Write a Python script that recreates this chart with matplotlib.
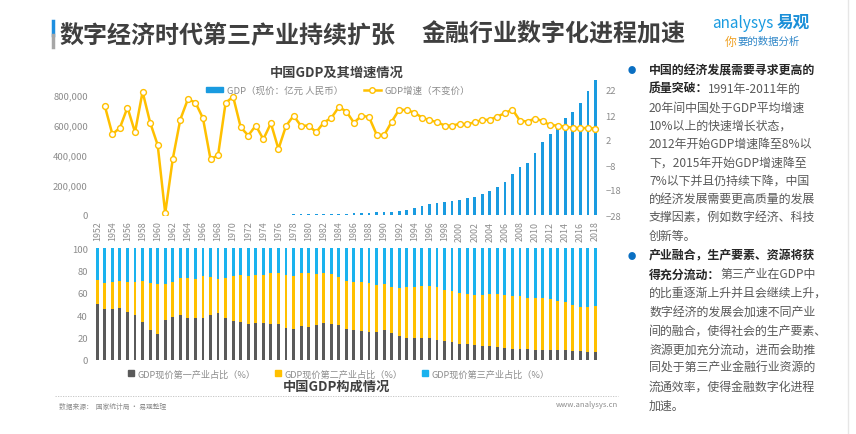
import numpy as np
import matplotlib
matplotlib.use('Agg')
import matplotlib.pyplot as plt
from matplotlib.lines import Line2D
from matplotlib.patches import Patch
from matplotlib.text import Annotation

plt.rcParams['font.family'] = ['Noto Sans CJK SC', 'DejaVu Sans']

# data
years = list(range(1952, 2019))
gdp = [679.1, 824.4, 859.8, 911.6, 1030.7, 1071.4, 1312.3, 1447.5, 1470.1, 1232.3,
       1162.2, 1248.3, 1469.9, 1734.0, 1888.7, 1794.2, 1744.1, 1962.2, 2279.7, 2456.9,
       2552.4, 2756.2, 2827.7, 3039.5, 2988.6, 3250.0, 3678.7, 4100.5, 4587.6, 4935.8,
       5373.4, 6020.9, 7278.5, 9098.9, 10376.2, 12174.6, 15180.4, 17179.7, 18872.9, 22005.6,
       27194.5, 35673.2, 48637.5, 61339.9, 71813.6, 79715.0, 85195.5, 90564.4, 100280.1, 110863.1,
       121717.4, 137422.0, 161840.2, 187318.9, 219438.5, 270232.3, 319515.5, 349081.4, 413030.3, 489300.6,
       540367.4, 595244.4, 643974.0, 689052.1, 743585.5, 827121.7, 900309.5]
growth_years = list(range(1953, 2019))
growth = [15.6, 4.3, 6.9, 15.0, 5.1, 21.3, 9.0, 0.0, -27.3, -5.6,
          10.2, 18.3, 17.0, 10.7, -5.7, -4.1, 16.9, 19.3, 7.1, 3.8,
          7.8, 2.3, 8.7, -1.6, 7.6, 11.7, 7.6, 7.8, 5.1, 9.0,
          10.8, 15.2, 13.4, 8.9, 11.7, 11.2, 4.2, 3.9, 9.3, 14.2,
          13.9, 13.0, 11.0, 9.9, 9.2, 7.8, 7.7, 8.5, 8.3, 9.1,
          10.0, 10.1, 11.4, 12.7, 14.2, 9.7, 9.4, 10.6, 9.6, 7.9,
          7.8, 7.3, 6.9, 6.7, 6.8, 6.6]
primary = [50.5, 45.9, 45.6, 46.3, 42.9, 40.1, 33.9, 26.4, 23.2, 35.8,
           38.9, 39.9, 38.0, 37.5, 37.2, 39.8, 41.6, 37.6, 34.8, 33.7,
           32.4, 32.9, 33.4, 31.9, 32.4, 29.0, 27.7, 30.7, 29.6, 31.3,
           32.8, 32.6, 31.5, 27.9, 26.6, 26.3, 25.2, 24.6, 26.6, 24.0,
           21.3, 19.3, 19.5, 19.6, 19.3, 17.9, 17.2, 16.1, 14.7, 14.0,
           13.3, 12.3, 12.9, 11.6, 10.6, 10.2, 10.2, 9.6, 9.3, 9.2,
           9.1, 8.9, 8.6, 8.4, 8.1, 7.6, 7.2]
secondary = [20.8, 23.4, 24.6, 24.4, 27.3, 29.7, 37.0, 42.8, 44.5, 31.9,
             31.3, 33.0, 35.3, 35.1, 38.0, 34.0, 31.1, 35.6, 40.3, 42.0,
             43.0, 43.1, 42.7, 45.7, 45.4, 47.1, 47.7, 47.0, 48.1, 46.0,
             44.6, 44.2, 42.9, 42.7, 43.5, 43.3, 43.5, 42.5, 41.0, 41.5,
             43.1, 46.2, 46.2, 46.8, 47.1, 47.1, 45.8, 45.4, 45.5, 44.8,
             44.5, 45.6, 45.9, 47.0, 47.6, 46.9, 47.0, 46.0, 46.5, 46.5,
             45.4, 44.2, 43.1, 40.8, 39.6, 39.9, 40.7]
tertiary = [round(100 - p - s, 1) for p, s in zip(primary, secondary)]

c_blue = '#1A9BE0'
c_blue2 = '#1AB2EE'
c_yellow = '#FFC000'
c_gray = '#5A5A5A'
tick_c = '#8C8C8C'

W, H = 856, 435
fig = plt.figure(figsize=(W / 100, H / 100), dpi=100)

def box(l, t, r, b):
    return [l / W, 1 - b / H, (r - l) / W, (b - t) / H]

# top chart
ax = fig.add_axes(box(92, 66, 600, 216))
ax.bar(years, gdp, width=0.36, color=c_blue, zorder=2)
ax.set_xlim(1951.3, 2018.6)
ax.set_ylim(0, 1000000)
ax.set_yticks([0, 200000, 400000, 600000, 800000])
ax.set_yticklabels(['0', '200,000', '400,000', '600,000', '800,000'])
ax.set_xticks(years[::2])
ax.set_xticklabels([str(y) for y in years[::2]], rotation=90)
ax.tick_params(axis='y', length=0, labelsize=6.8, labelcolor=tick_c, pad=3)
ax.tick_params(axis='x', length=0, labelsize=6.4, labelcolor=tick_c, pad=4)
for s in ax.spines.values():
    s.set_visible(False)

ax2 = ax.twinx()
ax2.plot(growth_years, growth, color=c_yellow, lw=1.8, marker='o', ms=4.2,
         mfc='white', mec=c_yellow, mew=1, zorder=3)
ax2.set_ylim(-28, 32)
ax2.set_yticks([-28, -18, -8, 2, 12, 22])
ax2.tick_params(length=0, labelsize=6.8, labelcolor=tick_c, pad=4)
for s in ax2.spines.values():
    s.set_visible(False)

fig.text(337 / W, 1 - 73 / H, '中国GDP及其增速情况', ha='center', va='center',
         fontsize=9.5, fontweight='bold', color='#404040')
h1 = Patch(color=c_blue)
h2 = Line2D([], [], color=c_yellow, lw=1.8, marker='o', ms=4, mfc='white', mec=c_yellow)
fig.legend([h1, h2], ['GDP（现价：亿元 人民币）', 'GDP增速（不变价）'], loc='center',
           bbox_to_anchor=(338 / W, 1 - 91 / H), ncol=2, frameon=False, fontsize=6.8,
           labelcolor=tick_c, handlelength=1.8, handleheight=0.5, columnspacing=2.2,
           handletextpad=0.4)

# bottom chart
bx = fig.add_axes(box(92, 238, 600, 361))
bx.patch.set_alpha(0)
bx.bar(years, primary, width=0.38, color=c_gray)
bx.bar(years, secondary, width=0.38, bottom=primary, color=c_yellow)
bx.bar(years, tertiary, width=0.38, bottom=[p + s for p, s in zip(primary, secondary)], color=c_blue2)
bx.set_xlim(1951.3, 2018.6)
bx.set_ylim(0, 110)
bx.set_yticks([0, 20, 40, 60, 80, 100])
bx.set_xticks([])
bx.tick_params(length=0, labelsize=6.8, labelcolor=tick_c, pad=3)
for s in bx.spines.values():
    s.set_visible(False)

hs = [Line2D([], [], ls='', marker='s', ms=5, color=c) for c in (c_gray, c_yellow, c_blue2)]
fig.legend(hs, ['GDP现价第一产业占比（%）', 'GDP现价第二产业占比（%）', 'GDP现价第三产业占比（%）'],
           loc='center', bbox_to_anchor=(338 / W, 1 - 375 / H), ncol=3, frameon=False,
           fontsize=6.6, labelcolor=tick_c, columnspacing=2.0, handletextpad=0.2, handlelength=1)
fig.text(337 / W, 1 - 387 / H, '中国GDP构成情况', ha='center', va='center',
         fontsize=9.5, fontweight='bold', color='#404040')

# header
fig.add_artist(Line2D([53 / W, 53 / W], [1 - 22 / H, 1 - 36 / H], color='#1E8FE0', lw=2.5))
fig.add_artist(Line2D([53 / W, 53 / W], [1 - 36 / H, 1 - 48 / H], color='#A6A6A6', lw=2.5))
fig.text(60 / W, 1 - 35 / H, '数字经济时代第三产业持续扩张', ha='left', va='center',
         fontsize=17.3, fontweight='bold', color='#3F3F3F')
fig.text(421 / W, 1 - 35 / H, '金融行业数字化进程加速', ha='left', va='center',
         fontsize=17.3, fontweight='bold', color='#3F3F3F')
fig.text(712 / W, 1 - 23 / H, 'analysys', ha='left', va='center', fontsize=11,
         color='#1A9BE0', style='italic')
fig.text(777 / W, 1 - 23 / H, '易观', ha='left', va='center', fontsize=12,
         fontweight='bold', color='#1A8FD8')
fig.text(725 / W, 1 - 42 / H, '你', ha='left', va='center', fontsize=8.5, color='#F0A020')
fig.text(737 / W, 1 - 42 / H, '要的数据分析', ha='left', va='center', fontsize=7.5,
         color='#2E86C8', style='italic')
fig.add_artist(Line2D([848 / W, 848 / W], [0, 1], color='#E6E6E6', lw=1))

# footer
fig.add_artist(Line2D([55 / W, 618 / W], [1 - 397 / H, 1 - 397 / H], color='#BFBFBF',
                      lw=0.6, ls=(0, (1.5, 1.5))))
fig.text(59 / W, 1 - 407 / H, '数据来源：  国家统计局 · 易观整理', ha='left', va='center',
         fontsize=4.9, color='#8C8C8C')
fig.text(618 / W, 1 - 405 / H, 'www.analysys.cn', ha='right', va='center',
         fontsize=5.5, color='#8C8C8C')

# right text
para1 = [('中国的经济发展需要寻求更高的', ''), ('质量突破：', '1991年-2011年的'),
         ('', '20年间中国处于GDP平均增速'), ('', '10%以上的快速增长状态，'),
         ('', '2012年开始GDP增速降至8%以'), ('', '下，2015年开始GDP增速降至'),
         ('', '7%以下并且仍持续下降，中国'), ('', '的经济发展需要更高质量的发展'),
         ('', '支撑因素，例如数字经济、科技'), ('', '创新等。')]
para2 = [('产业融合，生产要素、资源将获', ''), ('得充分流动：', '第三产业在GDP中'),
         ('', '的比重逐渐上升并且会继续上升，'), ('', '数字经济的发展会加速不同产业'),
         ('', '间的融合，使得社会的生产要素、'), ('', '资源更加充分流动，进而会助推'),
         ('', '同处于第三产业金融行业资源的'), ('', '流通效率，使得金融数字化进程'),
         ('', '加速。')]

def write_para(lines, y0, step):
    fig.text(632 / W, 1 - y0 / H, '●', ha='center', va='center', fontsize=6, color='#0A6FC2')
    for i, (b, n) in enumerate(lines):
        y = 1 - (y0 + i * step) / H
        if b:
            t = fig.text(649 / W, y, b, ha='left', va='center', fontsize=8.6,
                         fontweight='bold', color='#262626')
            if n:
                a = Annotation(n, xy=(1, 0), xycoords=t, ha='left', va='bottom',
                               fontsize=8.6, color='#595959')
                fig.add_artist(a)
        else:
            fig.text(649 / W, y, n, ha='left', va='center', fontsize=8.6, color='#595959')

write_para(para1, 71, 18.4)
write_para(para2, 256, 18.75)

fig.savefig('out.png', dpi=100, facecolor='white')
